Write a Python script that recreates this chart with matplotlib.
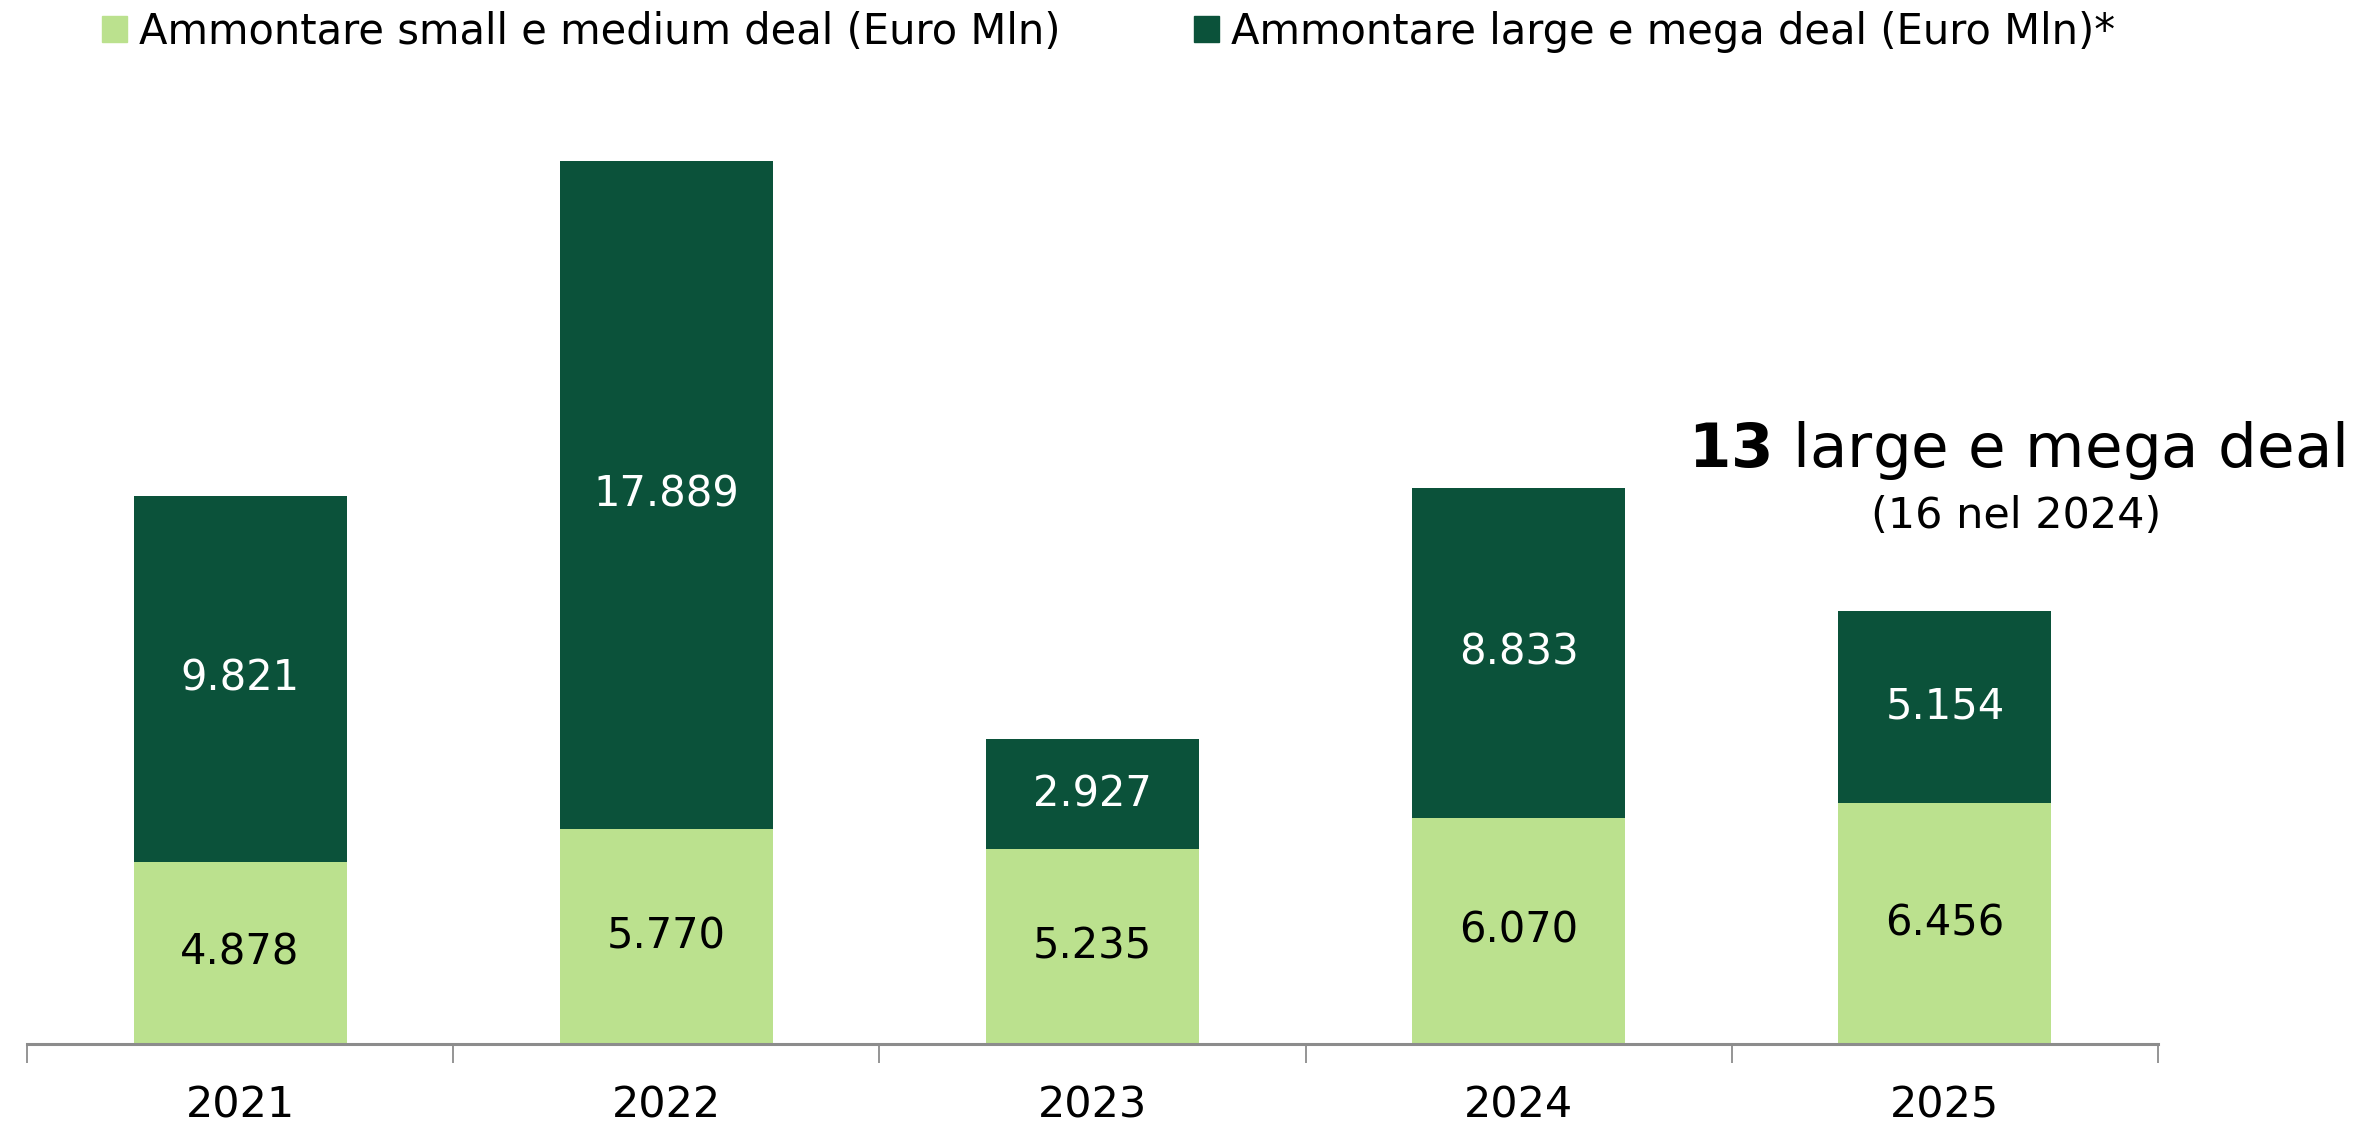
"""Stacked bars: ammontare deal small/medium vs large/mega, 2021-2025."""
import matplotlib.pyplot as plt
import numpy as np

years = ["2021", "2022", "2023", "2024", "2025"]
small_medium = [4878, 5770, 5235, 6070, 6456]
large_mega = [9821, 17889, 2927, 8833, 5154]

label_small = "Ammontare small e medium deal (Euro Mln)"
label_large = "Ammontare large e mega deal (Euro Mln)*"

LIGHT = "#BBE18E"
DARK = "#0B523A"

plt.rcParams["font.family"] = ["DejaVu Sans"]


def fmt(v):
    return f"{v:,}".replace(",", ".")


fig = plt.figure(figsize=(23.66, 11.23), dpi=100)
ax = fig.add_axes([27 / 2366, 79 / 1123, (2158 - 27) / 2366, (1044 - 100) / 1123])

x = np.arange(len(years))
b1 = ax.bar(x, small_medium, width=0.5, color=LIGHT, label=label_small)
b2 = ax.bar(x, large_mega, width=0.5, bottom=small_medium, color=DARK, label=label_large)

ax.bar_label(b1, labels=[fmt(v) for v in small_medium], label_type="center",
             fontsize=30, color="black")
ax.bar_label(b2, labels=[fmt(v) for v in large_mega], label_type="center",
             fontsize=30, color="white")

ax.set_xlim(-0.5, len(years) - 0.5)
ax.set_ylim(0, 25300)
ax.set_yticks([])
for side in ("left", "right", "top"):
    ax.spines[side].set_visible(False)
ax.spines["bottom"].set_color("#8C8C8C")
ax.spines["bottom"].set_linewidth(2.2)

# ticks between categories, labels centred
ax.set_xticks(np.arange(-0.5, len(years), 1.0))
ax.set_xticklabels([])
ax.tick_params(axis="x", which="major", length=14, width=1.3, color="#8C8C8C")
ax.set_xticks(x, minor=True)
ax.set_xticklabels(years, minor=True, fontsize=31)
ax.tick_params(axis="x", which="minor", length=0, pad=29)

# legend at top
handles = [plt.Rectangle((0, 0), 1, 1, color=LIGHT), plt.Rectangle((0, 0), 1, 1, color=DARK)]
fig.legend(handles, [label_small, label_large], loc="upper left",
           bbox_to_anchor=(64 / 2366, 1.024), ncol=2, frameon=False, fontsize=30,
           handlelength=0.6, handleheight=0.6, handletextpad=0.3, columnspacing=3.2)

fig.text(2016 / 2366, 1 - 450 / 1123, r"$\bf{13}$ large e mega deal", ha="center",
         va="center", fontsize=44)
fig.text(2016 / 2366, 1 - 516 / 1123, "(16 nel 2024)", ha="center", va="center",
         fontsize=31)

fig.savefig("out.png", dpi=100)
